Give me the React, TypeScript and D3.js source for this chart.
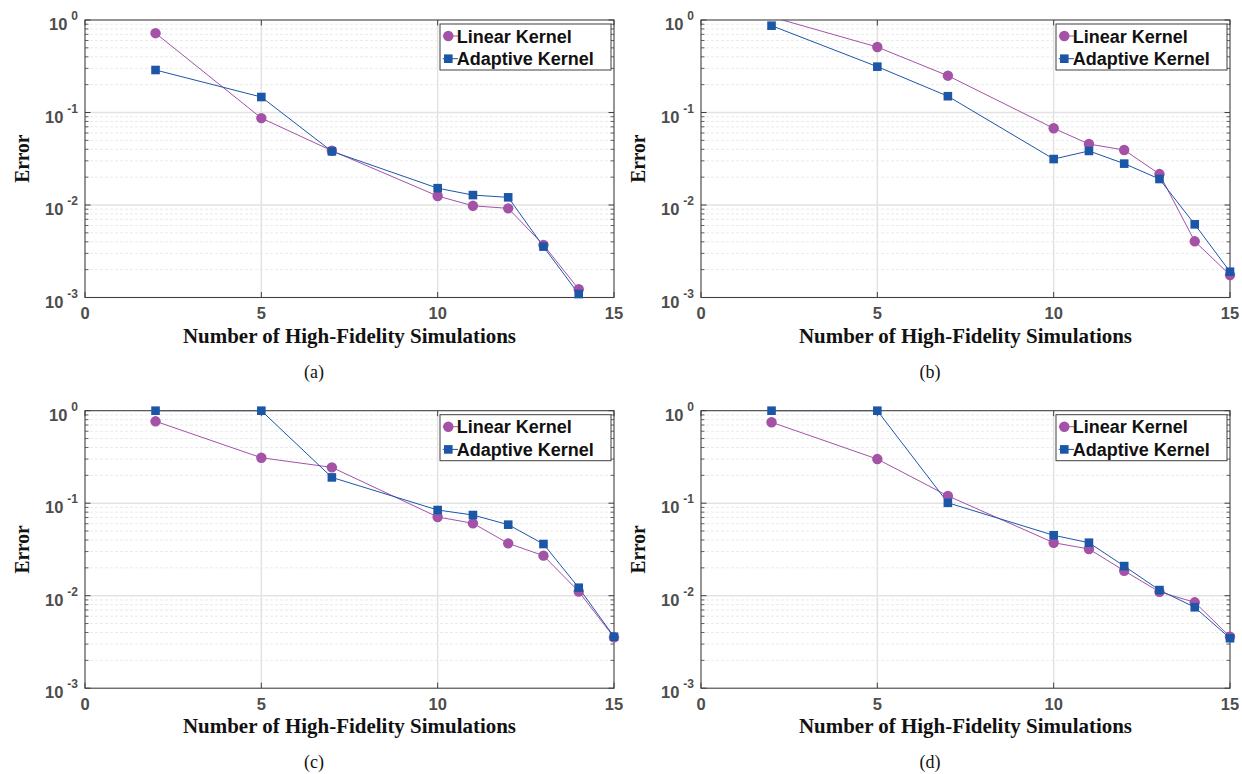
import * as d3 from 'd3';
import React from 'react';

// x positions (number of high-fidelity simulations)
const xsA = [2, 5, 7, 10, 11, 12, 13, 14];
const xsFull = [2, 5, 7, 10, 11, 12, 13, 14, 15];

// (a)
const linearA = [0.72, 0.087, 0.0386, 0.0125, 0.0098, 0.0092, 0.0037, 0.00123];
const adaptiveA = [0.288, 0.147, 0.038, 0.0152, 0.0128, 0.0121, 0.00355, 0.00109];
// (b)
const linearB = [1.08, 0.51, 0.25, 0.0675, 0.0456, 0.0393, 0.0216, 0.00405, 0.00175];
const adaptiveB = [0.868, 0.313, 0.15, 0.0314, 0.0384, 0.028, 0.0191, 0.00618, 0.0019];
// (c)
const linearC = [0.768, 0.31, 0.244, 0.071, 0.0606, 0.0368, 0.0271, 0.0111, 0.00355];
const adaptiveC = [1.0, 1.0, 0.19, 0.0844, 0.0745, 0.0586, 0.0362, 0.0122, 0.0036];
// (d)
const linearD = [0.75, 0.3, 0.12, 0.0374, 0.032, 0.0186, 0.011, 0.00848, 0.0036];
const adaptiveD = [1.0, 1.0, 0.101, 0.045, 0.0374, 0.0209, 0.0115, 0.0075, 0.00347];

const xTicks = [0, 5, 10, 15];
const yDecades = [-3, -2, -1, 0];
const seriesNames = ['Linear Kernel', 'Adaptive Kernel'];

const PURPLE = '#a352a6';
const BLUE = '#1c56a7';
const AXIS = '#404040';
const TICKTXT = '#4d4d4d';

const PW = 529;
const PH = 277.5;

const Panel = ({ id, ox, oy, xs, lin, ada, caption }) => {
  const x = d3.scaleLinear().domain([0, 15]).range([0, PW]);
  const y = d3.scaleLog().domain([1e-3, 1]).range([PH, 0]);
  const line = d3.line().x(d => x(d[0])).y(d => y(d[1]));

  const linPts = xs.map((v, i) => [v, lin[i]]);
  const adaPts = xs.map((v, i) => [v, ada[i]]);
  const inside = d => d[1] <= 1.0001 && d[1] >= 0.00099;

  const minors = [];
  yDecades.slice(0, 3).forEach(e => {
    for (let k = 2; k <= 9; k++) minors.push(k * Math.pow(10, e));
  });

  const lx = 355;
  const ly = 4;

  return (
    <g transform={`translate(${ox},${oy})`}>
      <defs>
        <clipPath id={`clip-${id}`}>
          <rect x={0} y={0} width={PW} height={PH} />
        </clipPath>
      </defs>
      <rect x={0} y={0} width={PW} height={PH} fill="#fff" />
      {/* minor grid */}
      {minors.map((v, i) => (
        <line key={'mg' + i} x1={0} x2={PW} y1={y(v)} y2={y(v)}
          stroke="#e4e4e4" strokeWidth={0.8} strokeDasharray="3,2" />
      ))}
      {/* major grid */}
      {yDecades.slice(1, 3).map(e => (
        <line key={'Mg' + e} x1={0} x2={PW} y1={y(Math.pow(10, e))} y2={y(Math.pow(10, e))}
          stroke="#e3e3e3" strokeWidth={1.5} />
      ))}
      {xTicks.slice(1, 3).map(t => (
        <line key={'vg' + t} x1={x(t)} x2={x(t)} y1={0} y2={PH} stroke="#e3e3e3" strokeWidth={1.5} />
      ))}
      {/* ticks */}
      {minors.map((v, i) => (
        <g key={'mt' + i}>
          <line x1={0} x2={3.5} y1={y(v)} y2={y(v)} stroke={AXIS} strokeWidth={0.8} />
          <line x1={PW} x2={PW - 3.5} y1={y(v)} y2={y(v)} stroke={AXIS} strokeWidth={0.8} />
        </g>
      ))}
      {yDecades.map(e => (
        <g key={'Mt' + e}>
          <line x1={0} x2={5.5} y1={y(Math.pow(10, e))} y2={y(Math.pow(10, e))} stroke={AXIS} strokeWidth={1} />
          <line x1={PW} x2={PW - 5.5} y1={y(Math.pow(10, e))} y2={y(Math.pow(10, e))} stroke={AXIS} strokeWidth={1} />
        </g>
      ))}
      {xTicks.map(t => (
        <g key={'xt' + t}>
          <line x1={x(t)} x2={x(t)} y1={PH} y2={PH - 5.5} stroke={AXIS} strokeWidth={1} />
          <line x1={x(t)} x2={x(t)} y1={0} y2={5.5} stroke={AXIS} strokeWidth={1} />
        </g>
      ))}
      {/* series lines */}
      <g clipPath={`url(#clip-${id})`}>
        <path d={line(linPts)} fill="none" stroke={PURPLE} strokeWidth={1} />
        <path d={line(adaPts)} fill="none" stroke={BLUE} strokeWidth={1} />
      </g>
      {/* axes box */}
      <rect x={0} y={0} width={PW} height={PH} fill="none" stroke={AXIS} strokeWidth={1.1} />
      {/* markers */}
      {linPts.filter(inside).map((d, i) => (
        <circle key={'lc' + i} cx={x(d[0])} cy={y(d[1])} r={5.2} fill={PURPLE} />
      ))}
      {adaPts.filter(inside).map((d, i) => (
        <rect key={'ar' + i} x={x(d[0]) - 4.3} y={y(d[1]) - 4.3} width={8.6} height={8.6} fill={BLUE} />
      ))}
      {/* tick labels */}
      {xTicks.map(t => (
        <text key={'xl' + t} x={x(t)} y={PH + 21.5} textAnchor="middle"
          fontFamily="'Liberation Sans', Arial, sans-serif" fontWeight="bold" fontSize={16.5} fill={TICKTXT}>
          {t}
        </text>
      ))}
      {yDecades.map(e => (
        <text key={'yl' + e} x={-7} y={y(Math.pow(10, e)) + 10} textAnchor="end"
          fontFamily="'Liberation Sans', Arial, sans-serif" fontWeight="bold" fontSize={16.5} fill={TICKTXT}>
          <tspan>10</tspan>
          <tspan dx={4} dy={-10} fontSize={12}>{e}</tspan>
        </text>
      ))}
      {/* axis labels */}
      <text x={PW / 2} y={PH + 45} textAnchor="middle" fontFamily="'Liberation Serif', 'Times New Roman', serif"
        fontWeight="bold" fontSize={20} fill="#111" textLength={333} lengthAdjust="spacingAndGlyphs">
        Number of High-Fidelity Simulations
      </text>
      <text transform={`translate(-56,${PH / 2}) rotate(-90)`} textAnchor="middle"
        fontFamily="'Liberation Serif', 'Times New Roman', serif" fontWeight="bold" fontSize={20} fill="#111"
        textLength={48} lengthAdjust="spacingAndGlyphs">
        Error
      </text>
      {/* legend */}
      <rect x={lx} y={ly} width={PW - 3 - lx} height={46} fill="#fff" stroke={AXIS} strokeWidth={1} />
      <line x1={lx + 2.7} x2={lx + 18} y1={ly + 12} y2={ly + 12} stroke={PURPLE} strokeWidth={1} />
      <circle cx={lx + 8.3} cy={ly + 12} r={5.2} fill={PURPLE} />
      <text x={lx + 16.7} y={ly + 18.7} fontFamily="'Liberation Sans', Arial, sans-serif" fontWeight="bold"
        fontSize={18} fill="#111">{seriesNames[0]}</text>
      <line x1={lx + 2.7} x2={lx + 18} y1={ly + 34.7} y2={ly + 34.7} stroke={BLUE} strokeWidth={1} />
      <rect x={lx + 8.3 - 4.3} y={ly + 34.7 - 4.3} width={8.6} height={8.6} fill={BLUE} />
      <text x={lx + 16.7} y={ly + 41} fontFamily="'Liberation Sans', Arial, sans-serif" fontWeight="bold"
        fontSize={18} fill="#111">{seriesNames[1]}</text>
      {/* caption */}
      <text x={PW / 2 - 35.5} y={PH + 80} textAnchor="middle"
        fontFamily="'Liberation Serif', 'Times New Roman', serif" fontSize={18} fill="#111">
        {caption}
      </text>
    </g>
  );
};

export default function App() {
  return (
    <div style={{ position: 'absolute', left: 0, top: 0 }}>
      <svg width={1242} height={774} style={{ display: 'block', background: '#fff' }}>
        <Panel id="a" ox={85} oy={20} xs={xsA} lin={linearA} ada={adaptiveA} caption="(a)" />
        <Panel id="b" ox={701} oy={20} xs={xsFull} lin={linearB} ada={adaptiveB} caption="(b)" />
        <Panel id="c" ox={85} oy={410.7} xs={xsFull} lin={linearC} ada={adaptiveC} caption="(c)" />
        <Panel id="d" ox={701} oy={410.7} xs={xsFull} lin={linearD} ada={adaptiveD} caption="(d)" />
      </svg>
    </div>
  );
}
